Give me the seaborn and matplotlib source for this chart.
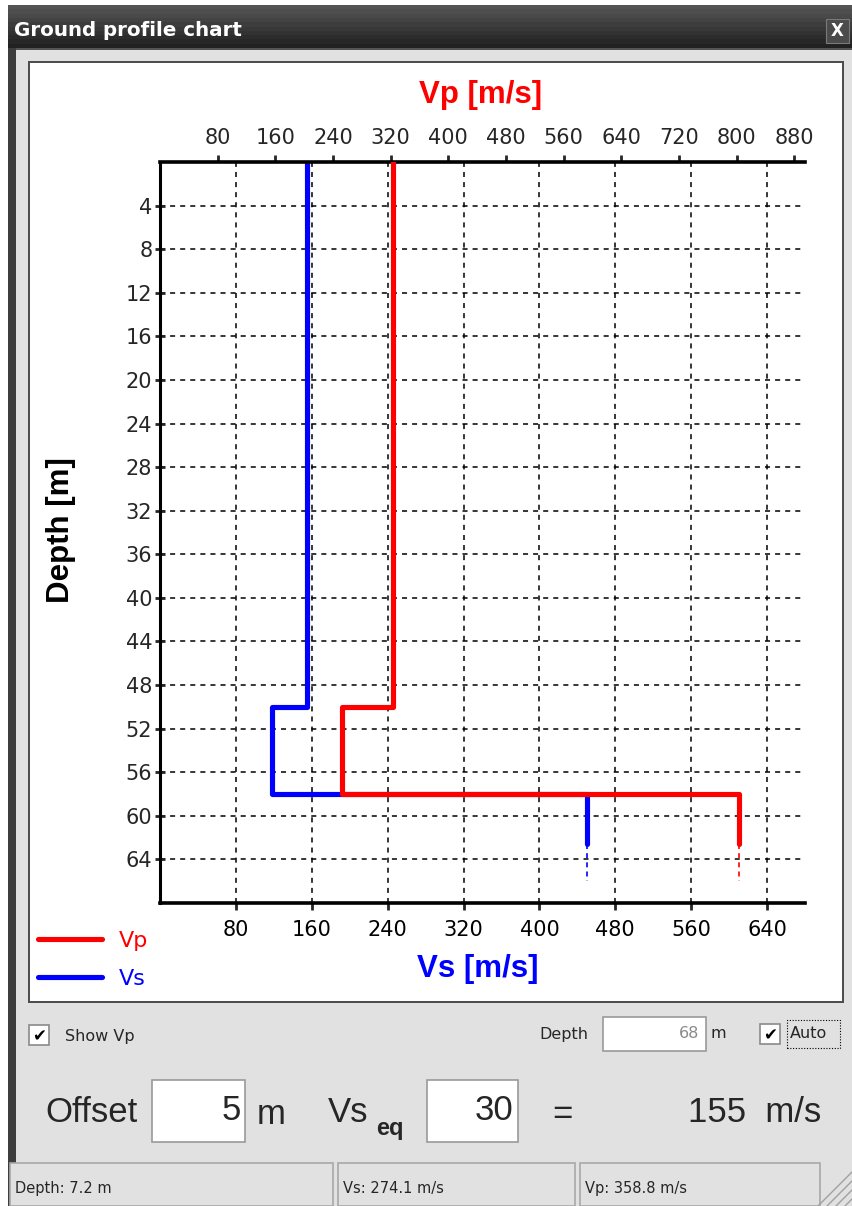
import numpy as np
import matplotlib
matplotlib.use("Agg")
import matplotlib.pyplot as plt
import seaborn as sns
from matplotlib.patches import Rectangle
from matplotlib.lines import Line2D

# layered ground profile
layer_top = [0, 50, 58]
vs = [155, 118, 450]
vp = [323, 253, 804]
solid_end = 62.6
dashed_end = 66.0
max_depth = 68

depth_ticks = [4, 8, 12, 16, 20, 24, 28, 32, 36, 40, 44, 48, 52, 56, 60, 64]
vs_ticks = [80, 160, 240, 320, 400, 480, 560, 640]
vp_ticks = [80, 160, 240, 320, 400, 480, 560, 640, 720, 800, 880]
vs_max = 680
vp_max = 895

W, H = 853, 1206


def fx(x):
    return x / W


def fy(y):
    return 1 - y / H


def box(fig, x0, y0, x1, y1, z=-5, **kw):
    r = Rectangle((fx(x0), fy(y1)), (x1 - x0) / W, (y1 - y0) / H,
                  transform=fig.transFigure, zorder=z, **kw)
    fig.add_artist(r)
    return r


def step_profile(tops, vals, end):
    d = np.repeat(tops + [end], 2)[1:-1]
    v = np.repeat(vals, 2)
    return d, v


sns.set_style("white")
plt.rcParams['font.family'] = ['DejaVu Sans']

fig = plt.figure(figsize=(W / 100, H / 100), dpi=100, facecolor='white')

# window frame
box(fig, 8, 5, 853, 1206, z=-9, facecolor='#3d3d3d', edgecolor='none')
shades = np.linspace(0.33, 0.13, 10)
for i, s in enumerate(shades):
    y0 = 5 + i * 4.3
    box(fig, 8, y0, 853, y0 + 4.4, z=-8, facecolor=(s, s, s), edgecolor='none')
box(fig, 16, 49, 853, 1206, z=-7, facecolor='#e1e1e1', edgecolor='none')
box(fig, 16, 48, 853, 50, z=-7, facecolor='#555555', edgecolor='none')
box(fig, 29, 62, 843, 1002, z=-6, facecolor='white', edgecolor='#4a4a4a', linewidth=1.4)

fig.text(fx(14), fy(31), "Ground profile chart", color='white', fontsize=14.3,
         fontweight='bold', ha='left', va='center')
box(fig, 826, 19, 849, 43, z=-6, facecolor='#4b4b4b', edgecolor='#7a7a7a', linewidth=0.8)
fig.text(fx(837.5), fy(31), "X", color='white', fontsize=12, fontweight='bold',
         ha='center', va='center')

# chart axes
ax = fig.add_axes([fx(160), fy(903), (805 - 160) / W, (903 - 162) / H])
ax.set_xlim(0, vs_max)
ax.set_ylim(max_depth, 0)
ax2 = ax.twiny()
ax2.set_xlim(0, vp_max)

d_vs, v_vs = step_profile(layer_top, vs, solid_end)
d_vp, v_vp = step_profile(layer_top, vp, solid_end)

sns.lineplot(x=v_vs, y=d_vs, sort=False, estimator=None, color='#0000ff',
             linewidth=3.7, label='Vs', ax=ax, zorder=4)
sns.lineplot(x=v_vp, y=d_vp, sort=False, estimator=None, color='#ff0000',
             linewidth=3.7, label='Vp', ax=ax2, zorder=5)
sns.lineplot(x=[vs[-1], vs[-1]], y=[solid_end, dashed_end], sort=False, estimator=None,
             color='#0000ff', linewidth=1.2, linestyle=(0, (3, 2.5)), ax=ax, zorder=4)
sns.lineplot(x=[vp[-1], vp[-1]], y=[solid_end, dashed_end], sort=False, estimator=None,
             color='#ff0000', linewidth=1.2, linestyle=(0, (3, 2.5)), ax=ax2, zorder=5)
for a in (ax, ax2):
    if a.get_legend() is not None:
        a.get_legend().remove()
ax.set_xlim(0, vs_max)
ax.set_ylim(max_depth, 0)
ax2.set_xlim(0, vp_max)

ax.set_xticks(vs_ticks)
ax.set_yticks(depth_ticks)
ax2.set_xticks(vp_ticks)
ax.grid(True, color='black', linewidth=1.1, linestyle=(0, (3.3, 3.3)))
ax.set_axisbelow(True)

for s in ('top', 'right'):
    ax.spines[s].set_visible(False)
for s in ('bottom', 'left', 'right'):
    ax2.spines[s].set_visible(False)
ax.spines['left'].set_linewidth(2.2)
ax.spines['bottom'].set_linewidth(2.6)
ax2.spines['top'].set_linewidth(2.6)
for sp in (ax.spines['left'], ax.spines['bottom'], ax2.spines['top']):
    sp.set_color('black')

ax.tick_params(axis='x', direction='out', length=5, width=2, labelsize=15, pad=7,
               bottom=True, labelcolor='black')
ax.tick_params(axis='y', direction='inout', length=7, width=2, labelsize=15, pad=2,
               left=True)
ax2.tick_params(axis='x', direction='out', length=5, width=2, labelsize=15, pad=5,
                top=True)

lab = dict(fontsize=22.5, fontweight='bold', family='Liberation Sans')
ax2.set_xlabel("Vp [m/s]", color='#ff0000', **lab)
ax2.xaxis.set_label_coords(0.497, 1.079)
ax.set_xlabel("Vs [m/s]", color='#0000ff', **lab)
ax.xaxis.set_label_coords(0.493, -0.069)
ax.set_ylabel("Depth [m]", color='black', **lab)
ax.yaxis.set_label_coords(-0.13, 0.503)

h_vp, l_vp = ax2.get_legend_handles_labels()
h_vs, l_vs = ax.get_legend_handles_labels()
leg = ax2.legend(h_vp[:1] + h_vs[:1], ['Vp', 'Vs'], loc='upper left',
                 bbox_to_anchor=(fx(38), fy(931)), bbox_transform=fig.transFigure,
                 frameon=False, fontsize=16, labelcolor='linecolor',
                 handlelength=2.9, handletextpad=0.72, labelspacing=0.8,
                 borderaxespad=0, borderpad=0)

# controls under the chart
def checkbox(x0, y0, size=20):
    box(fig, x0, y0, x0 + size, y0 + size, z=-4, facecolor='white',
        edgecolor='#8a8a8a', linewidth=1.2)
    fig.text(fx(x0 + size / 2), fy(y0 + size / 2 + 1), "\u2714", fontsize=12,
             ha='center', va='center', color='black')


def textbox(x0, y0, x1, y1):
    box(fig, x0, y0, x1, y1, z=-4, facecolor='white', edgecolor='#9a9a9a', linewidth=1.2)


checkbox(29, 1025)
fig.text(fx(65), fy(1036), "Show Vp", fontsize=11.5, ha='left', va='center')
fig.text(fx(588), fy(1034), "Depth", fontsize=11.5, ha='right', va='center')
textbox(603, 1017, 706, 1051)
fig.text(fx(699), fy(1034), "68", fontsize=11.5, ha='right', va='center', color='#8a8a8a')
fig.text(fx(711), fy(1034), "m", fontsize=11.5, ha='left', va='center')
checkbox(760, 1024)
fig.text(fx(790), fy(1034), "Auto", fontsize=11.5, ha='left', va='center')
box(fig, 787, 1020, 840, 1048, z=-3, facecolor='none', edgecolor='black',
    linewidth=0.8, linestyle=(0, (1, 1.5)))

big = dict(fontsize=25, family='Liberation Sans', va='center')
fig.text(fx(45), fy(1112), "Offset", ha='left', **big)
textbox(152, 1080, 245, 1142)
fig.text(fx(241), fy(1110), "5", ha='right', **big)
fig.text(fx(257), fy(1114), "m", ha='left', **big)
fig.text(fx(328), fy(1112), "Vs", ha='left', **big)
fig.text(fx(376), fy(1129), "eq", ha='left', fontsize=17, fontweight='bold',
         family='Liberation Sans', va='center')
textbox(427, 1080, 518, 1142)
fig.text(fx(513), fy(1110), "30", ha='right', **big)
fig.text(fx(562), fy(1114), "=", ha='center', **big)
fig.text(fx(821), fy(1112), "155  m/s", ha='right', **big)

# status bar
box(fig, 16, 1158, 853, 1206, z=-5, facecolor='#e1e1e1', edgecolor='none')
for x0, x1, txt in [(10, 333, "Depth: 7.2 m"), (338, 575, "Vs: 274.1 m/s"),
                    (580, 820, "Vp: 358.8 m/s")]:
    box(fig, x0, 1163, x1, 1206, z=-4, facecolor='#e1e1e1', edgecolor='#a8a8a8',
        linewidth=1.2)
    fig.text(fx(x0 + 5), fy(1188), txt, fontsize=10.5, ha='left', va='center')
for k in range(4):
    off = 8 + k * 9
    fig.add_artist(Line2D([fx(853 - off), fx(853)], [fy(1206), fy(1206 - off)],
                          transform=fig.transFigure, color='#a0a0a0', linewidth=1.0))

fig.savefig('out.png', dpi=100)
